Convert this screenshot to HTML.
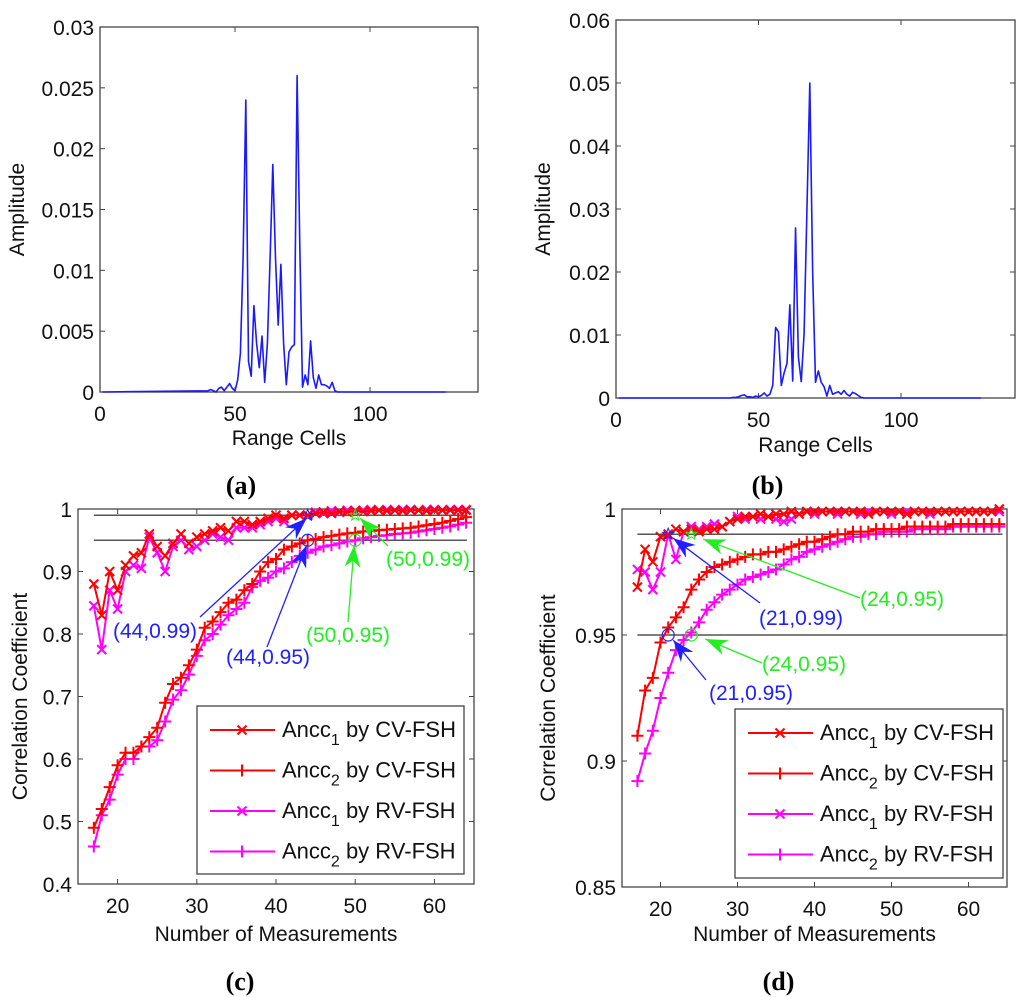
<!DOCTYPE html>
<html><head><meta charset="utf-8"><style>
html,body{margin:0;padding:0;background:#fff;}
svg{display:block;font-family:"Liberation Sans",Arial,sans-serif;}
</style></head><body>
<svg id="fig" width="1024" height="997" viewBox="0 0 1024 997" xmlns="http://www.w3.org/2000/svg">
<rect width="1024" height="997" fill="#fff"/>
</svg>
<script>
// ---- panel (a) data ----
const cellsA = [1,40,41,42,43,44,45,46,47,48,49,50,51,52,53,54,55,56,57,58,59,60,61,62,63,64,65,66,67,68,69,70,71,72,73,74,75,76,77,78,79,80,81,82,83,84,85,86,87,88,128];
const ampA = [0,0.0001,0.0002,0.0001,0,0.0003,0.0004,0.0001,0.0004,0.0007,0.0003,0.0001,0.001,0.0032,0.011,0.024,0.0025,0.0013,0.0071,0.004,0.002,0.0046,0.0008,0.004,0.011,0.0187,0.011,0.0055,0.0105,0.004,0.0006,0.0033,0.0037,0.0039,0.026,0.012,0.0004,0.0014,0.0006,0.0042,0.0012,0.0003,0.0014,0.0006,0.0006,0.0005,0.0003,0.0008,0.0001,0,0];
// ---- panel (b) data ----
const cellsB = [1,40,41,42,43,44,45,46,47,48,49,50,51,52,53,54,55,56,57,58,59,60,61,62,63,64,65,66,67,68,69,70,71,72,73,74,75,76,77,78,79,80,81,82,83,84,85,86,87,128];
const ampB = [0,0,0.0001,0.0001,0.0002,0.0004,0.0005,0.0002,0.0002,0.0001,0.0003,0.0002,0.0004,0.0008,0.0003,0.0006,0.002,0.0112,0.0105,0.002,0.004,0.0055,0.0148,0.0027,0.027,0.0065,0.0026,0.0103,0.03,0.05,0.02,0.0025,0.0043,0.0025,0.0018,0.0003,0.002,0.0006,0.0008,0.001,0.0006,0.0012,0.0006,0.0003,0.0009,0.0007,0.0004,0.0001,0,0];
const xTicksAB = [0,50,100];
const xTickLabelsAB = ['0','50','100'];
const yTicksA = [0,0.005,0.01,0.015,0.02,0.025,0.03];
const yTickLabelsA = ['0','0.005','0.01','0.015','0.02','0.025','0.03'];
const yTicksB = [0,0.01,0.02,0.03,0.04,0.05,0.06];
const yTickLabelsB = ['0','0.01','0.02','0.03','0.04','0.05','0.06'];
// ---- panel (c) data ----
const measurements = [17,18,19,20,21,22,23,24,25,26,27,28,29,30,31,32,33,34,35,36,37,38,39,40,41,42,43,44,45,46,47,48,49,50,51,52,53,54,55,56,57,58,59,60,61,62,63,64];
const c_ancc1_cv = [0.88,0.83,0.90,0.87,0.91,0.925,0.93,0.96,0.94,0.925,0.945,0.96,0.945,0.955,0.96,0.965,0.97,0.965,0.98,0.98,0.975,0.98,0.985,0.99,0.985,0.99,0.99,0.99,0.993,0.995,0.993,0.996,0.995,0.997,0.996,0.997,0.998,0.997,0.998,0.997,0.998,0.998,0.997,0.998,0.998,0.998,0.998,0.998];
const c_ancc2_cv = [0.49,0.52,0.555,0.59,0.61,0.61,0.62,0.635,0.65,0.69,0.72,0.73,0.75,0.775,0.81,0.82,0.835,0.85,0.855,0.87,0.88,0.90,0.915,0.92,0.935,0.94,0.945,0.95,0.952,0.955,0.957,0.959,0.961,0.962,0.964,0.965,0.966,0.967,0.968,0.969,0.97,0.972,0.974,0.976,0.978,0.981,0.984,0.987];
const c_ancc1_rv = [0.845,0.775,0.87,0.84,0.90,0.91,0.905,0.955,0.93,0.90,0.94,0.95,0.935,0.94,0.95,0.96,0.955,0.95,0.97,0.97,0.97,0.975,0.98,0.985,0.98,0.99,0.99,0.99,0.995,0.993,0.997,0.995,0.998,0.997,0.998,0.999,0.998,0.999,0.998,0.999,0.999,0.998,0.999,0.999,0.998,0.999,0.999,0.999];
const c_ancc2_rv = [0.46,0.51,0.535,0.575,0.60,0.60,0.62,0.62,0.63,0.66,0.695,0.71,0.735,0.765,0.79,0.80,0.815,0.83,0.84,0.85,0.875,0.885,0.89,0.90,0.905,0.915,0.925,0.93,0.935,0.94,0.942,0.945,0.948,0.95,0.953,0.955,0.957,0.958,0.96,0.961,0.962,0.964,0.966,0.968,0.97,0.972,0.975,0.978];
// ---- panel (d) data ----
const d_ancc1_cv = [0.969,0.984,0.979,0.989,0.99,0.992,0.991,0.992,0.991,0.992,0.992,0.993,0.995,0.996,0.997,0.997,0.998,0.997,0.998,0.998,0.999,0.998,0.999,0.999,0.999,0.999,0.999,0.999,0.999,0.999,0.998,0.999,0.999,0.999,0.999,0.998,0.999,0.999,0.999,0.999,0.999,0.999,0.999,0.999,0.999,0.999,0.999,1.0];
const d_ancc2_cv = [0.91,0.928,0.933,0.947,0.953,0.957,0.961,0.968,0.972,0.975,0.977,0.978,0.979,0.98,0.981,0.982,0.982,0.983,0.983,0.984,0.985,0.986,0.987,0.987,0.988,0.989,0.99,0.99,0.991,0.991,0.991,0.992,0.992,0.992,0.992,0.993,0.993,0.993,0.993,0.993,0.993,0.994,0.994,0.994,0.994,0.994,0.994,0.994];
const d_ancc1_rv = [0.976,0.975,0.968,0.975,0.99,0.98,0.991,0.993,0.992,0.993,0.994,0.993,0.995,0.997,0.996,0.997,0.996,0.997,0.996,0.995,0.996,0.998,0.999,0.998,0.999,0.999,0.998,0.999,0.999,0.998,0.999,0.999,0.999,0.998,0.999,0.999,0.999,0.999,0.998,0.999,0.999,0.999,0.999,0.999,0.999,0.999,0.999,0.999];
const d_ancc2_rv = [0.892,0.903,0.912,0.925,0.935,0.944,0.948,0.951,0.955,0.96,0.963,0.966,0.968,0.97,0.972,0.973,0.974,0.975,0.976,0.978,0.98,0.981,0.983,0.984,0.985,0.986,0.987,0.988,0.989,0.989,0.99,0.99,0.991,0.991,0.991,0.991,0.992,0.992,0.992,0.992,0.992,0.993,0.993,0.993,0.993,0.993,0.993,0.993];
const xTicksCD = [20,30,40,50,60];
const xTickLabelsCD = ['20','30','40','50','60'];
const yTicksC = [0.4,0.5,0.6,0.7,0.8,0.9,1];
const yTickLabelsC = ['0.4','0.5','0.6','0.7','0.8','0.9','1'];
const yTicksD = [0.85,0.9,0.95,1];
const yTickLabelsD = ['0.85','0.9','0.95','1'];
const thresholds = [0.99,0.95];
const legendLabels = ['by CV-FSH','by CV-FSH','by RV-FSH','by RV-FSH'];
const legendSubs = ['1','2','1','2'];

const NS = 'http://www.w3.org/2000/svg';
const fig = document.getElementById('fig');
function el(tag, attrs, parent){
  const e = document.createElementNS(NS, tag);
  for (const k in attrs) e.setAttribute(k, attrs[k]);
  (parent||fig).appendChild(e);
  return e;
}

function makePanel(name, L, T, R, B, x0, x1, y0, y1, xt, xtl, yt, ytl, xTitle, xTitleY, yTitleX, label, labelY){
  const g = el('g', {});
  
  
  const sx = v => L + (v - x0) / (x1 - x0) * (R - L);
  const sy = v => B - (v - y0) / (y1 - y0) * (B - T);
  const frame = el('rect', {x:L, y:T, width:R-L, height:B-T, fill:'#fff', stroke:'#444', 'stroke-width':1.3}, g);
  
  
  xt.forEach((v, i) => {
    const x = sx(v);
    el('line', {x1:x, y1:B, x2:x, y2:B-5, stroke:'#444', 'stroke-width':1}, g);
    el('line', {x1:x, y1:T, x2:x, y2:T+5, stroke:'#444', 'stroke-width':1}, g);
    const t = el('text', {x:x, y:B+29, 'font-size':21, 'text-anchor':'middle', fill:'#111'}, g);
    t.textContent = xtl[i];
    
    
  });
  yt.forEach((v, i) => {
    const y = sy(v);
    el('line', {x1:L, y1:y, x2:L+5, y2:y, stroke:'#444', 'stroke-width':1}, g);
    el('line', {x1:R, y1:y, x2:R-5, y2:y, stroke:'#444', 'stroke-width':1}, g);
    const t = el('text', {x:L-6, y:y+8, 'font-size':21, 'text-anchor':'end', fill:'#111'}, g);
    t.textContent = ytl[i];
    
    
  });
  const xtEl = el('text', {x:(L+R)/2, y:xTitleY, 'font-size':21, 'text-anchor':'middle', fill:'#111'}, g);
  xtEl.textContent = xTitle;
  
  
  const ytEl = el('text', {x:0, y:0, 'font-size':21, 'text-anchor':'middle', fill:'#111', transform:`translate(${yTitleX},${(T+B)/2}) rotate(-90)`}, g);
  ytEl.textContent = xTitle === 'Range Cells' ? 'Amplitude' : 'Correlation Coefficient';
  
  
  const lb = el('text', {x:(L+R)/2 - (xTitle === 'Range Cells' ? 48 : 36), y:labelY, 'font-size':26, 'font-weight':'bold', 'text-anchor':'middle', fill:'#000', 'font-family':'"Liberation Serif",serif'}, g);
  lb.textContent = label;
  
  
  return {g, sx, sy};
}

function drawLine(p, xs, ys, color, w, name){
  const d = xs.map((x, i) => (i ? 'L' : 'M') + p.sx(x).toFixed(2) + ',' + p.sy(ys[i]).toFixed(2)).join('');
  const path = el('path', {d, fill:'none', stroke:color, 'stroke-width':w, 'stroke-linejoin':'round'}, p.g);
  
  
  return path;
}
function marker(g, x, y, type, color){
  if (type === 'x'){
    const s = 4.5;
    el('path', {d:`M${x-s},${y-s}L${x+s},${y+s}M${x-s},${y+s}L${x+s},${y-s}`, stroke:color, 'stroke-width':2, fill:'none'}, g);
  } else {
    const s = 6;
    el('path', {d:`M${x-s},${y}L${x+s},${y}M${x},${y-s}L${x},${y+s}`, stroke:color, 'stroke-width':2, fill:'none'}, g);
  }
}
function drawSeries(p, xs, ys, color, type, name){
  drawLine(p, xs, ys, color, 2, name);
  const mg = el('g', {}, p.g);
  
  
  xs.forEach((x, i) => marker(mg, p.sx(x), p.sy(ys[i]), type, color));
}
function arrow(g, x1, y1, x2, y2, color, name){
  const ag = el('g', {}, g);
  
  
  el('line', {x1, y1, x2, y2, stroke:color, 'stroke-width':1.3}, ag);
  const a = Math.atan2(y2 - y1, x2 - x1), Lh = 22, Wh = 8;
  const bx = x2 - Lh*Math.cos(a), by = y2 - Lh*Math.sin(a);
  const nx = x2 - Lh*0.7*Math.cos(a), ny = y2 - Lh*0.7*Math.sin(a);
  const px = -Math.sin(a)*Wh, py = Math.cos(a)*Wh;
  el('polygon', {points:`${x2},${y2} ${bx+px},${by+py} ${nx},${ny} ${bx-px},${by-py}`, fill:color}, ag);
}
function txt(g, x, y, s, color, name){
  const t = el('text', {x, y, 'font-size':21, fill:color, 'text-anchor':'middle'}, g);
  t.textContent = s;
  
  
}
function star(g, x, y, color){
  let pts = [];
  for (let i = 0; i < 10; i++){
    const r = i % 2 ? 2.5 : 6, a = -Math.PI/2 + i*Math.PI/5;
    pts.push((x + r*Math.cos(a)).toFixed(1) + ',' + (y + r*Math.sin(a)).toFixed(1));
  }
  el('polygon', {points:pts.join(' '), fill:'none', stroke:color, 'stroke-width':1}, g);
}
function legend(p, L, T, R, B){
  const lg = el('g', {}, p.g);
  
  
  el('rect', {x:L, y:T, width:R-L, height:B-T, fill:'#fff', stroke:'#444', 'stroke-width':1.3}, lg);
  const colors = ['#ff0000','#ff0000','#ff00ff','#ff00ff'];
  const types = ['x','+','x','+'];
  legendLabels.forEach((lab, i) => {
    const y = T + 24 + i*40.5;
    const e = el('g', {}, lg);
    
    
    el('line', {x1:L+13, y1:y, x2:L+78, y2:y, stroke:colors[i], 'stroke-width':2}, e);
    marker(e, L+45, y, types[i], colors[i]);
    const t = el('text', {x:L+85, y:y+7, 'font-size':22, fill:'#111'}, e);
    t.appendChild(document.createTextNode('Ancc'));
    const ts = document.createElementNS(NS, 'tspan');
    ts.setAttribute('font-size', '16'); ts.setAttribute('dy', '8');
    ts.textContent = legendSubs[i];
    t.appendChild(ts);
    const ts2 = document.createElementNS(NS, 'tspan');
    ts2.setAttribute('dy', '-8');
    ts2.textContent = ' ' + lab;
    t.appendChild(ts2);
  });
}

// (a)
const pa = makePanel('panel-a', 100, 27, 478, 392, 0, 140, 0, 0.03, xTicksAB, xTickLabelsAB, yTicksA, yTickLabelsA, 'Range Cells', 445, 24, '(a)', 494);
drawLine(pa, cellsA, ampA, '#1a1aff', 1.6, 'amplitude-line-a');
// (b)
const pb = makePanel('panel-b', 616, 20, 1015, 398, 0, 140, 0, 0.06, xTicksAB, xTickLabelsAB, yTicksB, yTickLabelsB, 'Range Cells', 452, 550, '(b)', 494);
drawLine(pb, cellsB, ampB, '#1a1aff', 1.6, 'amplitude-line-b');

// (c)
const pc = makePanel('panel-c', 78, 509, 474, 884, 15, 65, 0.4, 1, xTicksCD, xTickLabelsCD, yTicksC, yTickLabelsC, 'Number of Measurements', 941, 27, '(c)', 990);
thresholds.forEach(v => {
  const l = el('line', {x1:pc.sx(17), y1:pc.sy(v), x2:pc.sx(64.1), y2:pc.sy(v), stroke:'#555', 'stroke-width':1.5}, pc.g);
  
  
});
drawSeries(pc, measurements, c_ancc2_rv, '#ff00ff', '+', 'ancc2-rv-fsh-c');
drawSeries(pc, measurements, c_ancc2_cv, '#ff0000', '+', 'ancc2-cv-fsh-c');
drawSeries(pc, measurements, c_ancc1_rv, '#ff00ff', 'x', 'ancc1-rv-fsh-c');
drawSeries(pc, measurements, c_ancc1_cv, '#ff0000', 'x', 'ancc1-cv-fsh-c');
star(pc.g, pc.sx(44), pc.sy(0.99), '#2020ff');
star(pc.g, pc.sx(50), pc.sy(0.99), '#22ee22');
el('circle', {cx:pc.sx(44), cy:pc.sy(0.95), r:6, fill:'none', stroke:'#2020ff', 'stroke-width':1.2}, pc.g);
el('circle', {cx:pc.sx(50), cy:pc.sy(0.95), r:6, fill:'none', stroke:'#22ee22', 'stroke-width':1.2}, pc.g);
arrow(pc.g, 200, 617, pc.sx(44)-1, pc.sy(0.99)+3, '#2020ff', 'annotation-arrow-44-099');
arrow(pc.g, 267, 647, pc.sx(44)-1, pc.sy(0.95)+5, '#2020ff', 'annotation-arrow-44-095');
arrow(pc.g, 348, 622, pc.sx(50)-1, pc.sy(0.95)+5, '#22ee22', 'annotation-arrow-50-095');
arrow(pc.g, 388, 546, pc.sx(50)+5, pc.sy(0.99)+3, '#22ee22', 'annotation-arrow-50-099');
txt(pc.g, 155, 638, '(44,0.99)', '#2020ff', 'annotation-44-099');
txt(pc.g, 268, 664, '(44,0.95)', '#2020ff', 'annotation-44-095');
txt(pc.g, 348, 642, '(50,0.95)', '#22ee22', 'annotation-50-095');
txt(pc.g, 428, 566, '(50,0.99)', '#22ee22', 'annotation-50-099');
legend(pc, 197, 706, 464, 874);

// (d)
const pd = makePanel('panel-d', 622, 509, 1007, 887, 15, 65, 0.85, 1, xTicksCD, xTickLabelsCD, yTicksD, yTickLabelsD, 'Number of Measurements', 941, 555, '(d)', 990);
thresholds.forEach(v => {
  const l = el('line', {x1:pd.sx(17), y1:pd.sy(v), x2:pd.sx(64.4), y2:pd.sy(v), stroke:'#555', 'stroke-width':1.5}, pd.g);
  
  
});
drawSeries(pd, measurements, d_ancc2_rv, '#ff00ff', '+', 'ancc2-rv-fsh-d');
drawSeries(pd, measurements, d_ancc2_cv, '#ff0000', '+', 'ancc2-cv-fsh-d');
drawSeries(pd, measurements, d_ancc1_rv, '#ff00ff', 'x', 'ancc1-rv-fsh-d');
drawSeries(pd, measurements, d_ancc1_cv, '#ff0000', 'x', 'ancc1-cv-fsh-d');
star(pd.g, pd.sx(21), pd.sy(0.99), '#2020ff');
star(pd.g, pd.sx(24), pd.sy(0.99), '#22ee22');
el('circle', {cx:pd.sx(21), cy:pd.sy(0.95), r:6, fill:'none', stroke:'#2020ff', 'stroke-width':1.2}, pd.g);
el('circle', {cx:pd.sx(24), cy:pd.sy(0.95), r:6, fill:'none', stroke:'#22ee22', 'stroke-width':1.2}, pd.g);
arrow(pd.g, 760, 603, pd.sx(21)+5, pd.sy(0.99)+4, '#2020ff', 'annotation-arrow-21-099');
arrow(pd.g, 706, 680, pd.sx(21)+5, pd.sy(0.95)+5, '#2020ff', 'annotation-arrow-21-095');
arrow(pd.g, 860, 598, pd.sx(24)+12, pd.sy(0.99)+5, '#22ee22', 'annotation-arrow-24-099');
arrow(pd.g, 762, 663, pd.sx(24)+14, pd.sy(0.95)+4, '#22ee22', 'annotation-arrow-24-095');
txt(pd.g, 801, 625, '(21,0.99)', '#2020ff', 'annotation-21-099');
txt(pd.g, 751, 700, '(21,0.95)', '#2020ff', 'annotation-21-095');
txt(pd.g, 902, 606, '(24,0.95)', '#22ee22', 'annotation-24-099');
txt(pd.g, 804, 671, '(24,0.95)', '#22ee22', 'annotation-24-095');
legend(pd, 735, 709, 1003, 878);
</script>
</body></html>
